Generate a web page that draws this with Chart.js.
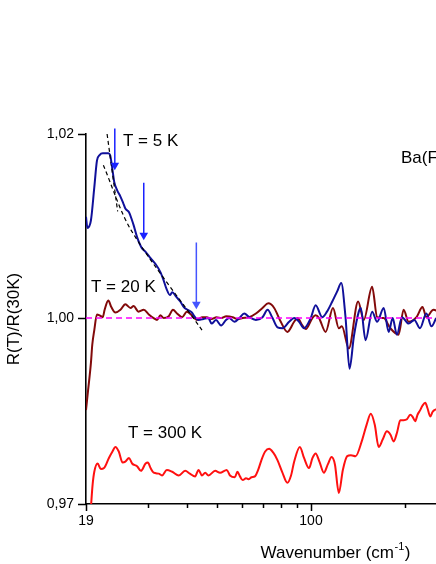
<!DOCTYPE html>
<html>
<head>
<meta charset="utf-8">
<script src="https://cdn.jsdelivr.net/npm/chart.js@4.4.1/dist/chart.umd.min.js"></script>
<style>
html,body{margin:0;padding:0;background:#fff;overflow:hidden}
#wrap{width:620px;height:564px}
</style>
</head>
<body>
<div id="wrap"><canvas id="chart" width="620" height="564"></canvas></div>
<script>
// wavenumber (cm-1) / R(T)/R(30K)
const wn5=[19.0,19.2,19.7,20.2,20.6,21.0,21.5,22.0,22.4,22.7,23.1,23.4,23.9,24.5,25.0,25.4,26.1,26.7,27.0,27.7,28.7,29.5,30.6,31.7,32.9,33.7,34.4,35.3,35.9,37.0,38.1,39.1,40.2,41.5,42.5,43.6,45.2,46.9,48.0,49.6,51.5,53.4,54.7,56.8,58.9,61.1,63.4,66.6,69.9,72.6,75.3,78.1,81.0,85.1,88.3,91.6,95.0,99.8,103.5,108.6,112.5,117.0,121.3,125.0,129.0,132.9,137.2,142.3,144.4,149.6,157.0,162.9,171.0,177.4,182.7,188.5,195.7,205.5,214.4,223.6,234.3,243.3,252.0];
const r5=[1.0110,1.0098,1.0106,1.0142,1.0171,1.0177,1.0179,1.0179,1.0179,1.0177,1.0161,1.0148,1.0139,1.0132,1.0125,1.0119,1.0115,1.0106,1.0101,1.0088,1.0076,1.0072,1.0065,1.0059,1.0050,1.0041,1.0032,1.0025,1.0028,1.0023,1.0018,1.0012,1.0009,1.0006,1.0001,0.9998,0.9999,1.0000,0.9994,0.9998,0.9992,0.9998,1.0000,0.9996,1.0000,1.0005,1.0001,0.9998,1.0001,1.0009,1.0000,0.9990,0.9989,0.9996,1.0000,0.9996,0.9989,1.0000,1.0014,1.0001,1.0007,1.0018,1.0029,1.0038,1.0001,0.9945,0.9980,1.0007,1.0011,0.9976,1.0007,0.9996,1.0011,0.9985,1.0000,0.9982,1.0001,0.9994,0.9998,0.9989,1.0005,0.9991,1.0000];

const wn20=[19.0,19.3,19.7,19.9,20.2,20.6,21.0,21.5,21.8,22.4,22.9,23.6,24.5,25.4,26.4,27.0,28.0,29.1,30.2,31.3,32.1,32.9,33.7,35.0,36.1,37.2,38.6,40.0,41.5,43.1,44.7,46.3,48.0,49.8,51.6,53.5,56.1,58.1,60.4,63.4,66.6,69.9,73.0,76.2,80.0,84.0,88.3,90.5,93.8,96.2,101.0,103.4,106.1,111.4,117.6,122.8,125.6,132.2,141.6,147.6,157.0,162.9,171.0,179.6,190.9,198.1,205.5,217.9,227.7,234.3,246.9,256.0];
const r20=[0.9900,0.9922,0.9951,0.9971,0.9987,1.0004,1.0003,1.0001,1.0009,1.0019,1.0012,1.0006,1.0009,1.0015,1.0011,1.0013,1.0007,1.0009,1.0004,1.0000,0.9998,1.0003,1.0000,1.0002,1.0009,1.0005,1.0001,1.0007,1.0003,0.9998,1.0001,1.0001,0.9999,1.0001,1.0000,1.0002,1.0001,0.9999,1.0000,1.0001,1.0005,1.0011,1.0016,1.0011,0.9996,0.9985,0.9996,1.0000,0.9992,0.9988,1.0000,1.0003,1.0000,0.9985,1.0011,0.9989,0.9991,0.9967,1.0018,0.9998,1.0034,1.0001,1.0000,0.9989,0.9982,1.0009,0.9996,1.0001,1.0012,1.0001,1.0009,1.0007];

const wn300=[19.7,19.95,20.2,20.7,21.2,21.7,22.5,23.1,23.6,24.2,24.9,25.4,26.1,26.7,27.7,28.5,29.5,30.0,30.6,31.3,32.5,33.3,34.5,35.9,37.7,39.5,40.9,42.5,43.6,44.7,45.8,46.9,49.3,51.1,53.7,55.0,57.0,58.1,59.2,60.4,61.9,63.0,64.5,66.1,67.7,69.4,71.3,73.4,75.6,78.0,80.8,84.0,86.3,88.3,92.1,95.0,98.5,101.1,103.5,106.4,110.0,113.2,116.4,119.3,122.8,126.5,130.6,134.3,139.0,146.0,150.7,155.5,160.1,164.8,169.7,175.1,180.0,184.0,188.8,193.3,198.1,203.0,208.0,211.5,215.8,219.5,223.9,227.8,232.4,236.3,241.1,245.2,248.7,256.0];
const r300=[0.9794,0.9819,0.9833,0.9842,0.9836,0.9837,0.9848,0.9855,0.9860,0.9855,0.9843,0.9844,0.9848,0.9842,0.9839,0.9834,0.9842,0.9843,0.9837,0.9832,0.9831,0.9829,0.9835,0.9833,0.9829,0.9834,0.9831,0.9828,0.9835,0.9829,0.9832,0.9829,0.9834,0.9832,0.9835,0.9829,0.9827,0.9833,0.9828,0.9824,0.9826,0.9825,0.9827,0.9828,0.9835,0.9846,0.9855,0.9858,0.9854,0.9846,0.9833,0.9821,0.9829,0.9844,0.9860,0.9848,0.9837,0.9848,0.9853,0.9844,0.9832,0.9841,0.9849,0.9841,0.9810,0.9835,0.9850,0.9851,0.9850,0.9868,0.9884,0.9896,0.9884,0.9860,0.9868,0.9877,0.9873,0.9866,0.9876,0.9889,0.9889,0.9890,0.9895,0.9893,0.9888,0.9895,0.9900,0.9905,0.9908,0.9902,0.9893,0.9898,0.9900,0.9902];

// dashed fit lines at low frequency (5 K)
const fitAWn=[22.2,24.0], fitAR=[1.0200,1.0116];
const fitBWn=[21.6,26.5,45.2], fitBR=[1.0166,1.00955,0.99848];

// arrows: position, start and head
const arrowWn=[23.5,29.1,42.9];
const arrowTop=[1.0206,1.0147,1.0082];
const arrowHead=[1.0166,1.0090,1.0015];

const refWn=[19,784], refR=[1.0,1.0];

const xTickValues=[19,30,40,50,60,70,80,90,100,200,300,400,500,600,700];
const xTickLabels=["19","","","","","","","","100","","","","","",""];
const xMajor=[19,100];
const yTickValues=[0.9798,1.00,1.02];
const yTickLabels=["0,97","1,00","1,02"];

const FONT='"Liberation Sans", Arial, sans-serif';

function pts(xs,ys){
  const n=Math.min(xs.length,ys.length), out=[];
  for(let i=0;i<n;i++) out.push({x:xs[i],y:ys[i]});
  return out;
}

const arrowSets=arrowWn.map((w,i)=>({
  data:[{x:w,y:arrowTop[i]},{x:w,y:arrowHead[i]}],
  borderColor:i===2?"#4455ff":"#1a22ff",
  backgroundColor:i===2?"#4455ff":"#1a22ff",
  borderWidth:1.5,
  pointRadius:[0,5],
  pointStyle:"triangle",
  rotation:180,
  pointBorderWidth:0,
  clip:false
}));

const notes=[
  {t:"T = 5 K",x:123,y:146},
  {t:"T = 20 K",x:91,y:292},
  {t:"T = 300 K",x:128,y:438},
  {t:"Ba(F",x:401,y:163}
];

const extras={
  id:"extras",
  afterDraw(chart){
    const ctx=chart.ctx, xs=chart.scales.x, ys=chart.scales.y, a=chart.chartArea;
    ctx.save();
    ctx.strokeStyle="#000"; ctx.lineWidth=1.5;
    ctx.beginPath();
    xs.ticks.forEach(t=>{
      const px=Math.round(xs.getPixelForValue(t.value))+0.5;
      const len=xMajor.includes(t.value)?7:4;
      ctx.moveTo(px,a.bottom); ctx.lineTo(px,a.bottom+len);
    });
    ys.ticks.forEach(t=>{
      const py=Math.round(ys.getPixelForValue(t.value))+0.5;
      ctx.moveTo(a.left-8,py); ctx.lineTo(a.left,py);
    });
    ctx.stroke();

    ctx.fillStyle="#000";
    ctx.font="17px "+FONT;
    ctx.textBaseline="alphabetic";
    ctx.textAlign="left";
    notes.forEach(n=>ctx.fillText(n.t,n.x,n.y));

    // x title with superscript
    const s1="Wavenumber (cm", s2="-1", s3=")";
    ctx.font="17px "+FONT; const w1=ctx.measureText(s1).width, w3=ctx.measureText(s3).width;
    ctx.font="11px "+FONT; const w2=ctx.measureText(s2).width;
    let x0=(a.left+a.right)/2-(w1+w2+w3)/2-3;
    const base=558;
    ctx.font="17px "+FONT; ctx.fillText(s1,x0,base);
    ctx.font="11px "+FONT; ctx.fillText(s2,x0+w1+0.5,base-8);
    ctx.font="17px "+FONT; ctx.fillText(s3,x0+w1+w2+1,base);
    ctx.restore();
  }
};

new Chart(document.getElementById("chart"),{
  type:"line",
  data:{datasets:[
    ...arrowSets,
    {data:pts(refWn,refR),borderColor:"#ff00ff",borderWidth:1.5,borderDash:[6,4],pointRadius:0},
    {data:pts(fitAWn,fitAR),borderColor:"#000",borderWidth:1.2,borderDash:[4,3],pointRadius:0},
    {data:pts(fitBWn,fitBR),borderColor:"#000",borderWidth:1.2,borderDash:[4,3],pointRadius:0,tension:0.3},
    {data:pts(wn5,r5),borderColor:"#10109a",borderWidth:2,pointRadius:0,cubicInterpolationMode:"monotone"},
    {data:pts(wn20,r20),borderColor:"#820a0a",borderWidth:2,pointRadius:0,cubicInterpolationMode:"monotone"},
    {data:pts(wn300,r300),borderColor:"#ff1010",borderWidth:2,pointRadius:0,cubicInterpolationMode:"monotone"}
  ]},
  options:{
    responsive:false,
    animation:false,
    layout:{padding:{left:0,top:134,right:30,bottom:0}},
    plugins:{legend:{display:false},tooltip:{enabled:false}},
    scales:{
      x:{
        type:"logarithmic",min:19,max:784,
        grid:{display:false,drawTicks:false},
        border:{display:true,color:"#000",width:1.6},
        afterBuildTicks:s=>{s.ticks=xTickValues.map(v=>({value:v}));},
        afterFit:s=>{s.height=60;},
        ticks:{autoSkip:false,maxRotation:0,padding:9,color:"#000",font:{family:FONT,size:14},
          callback:v=>{const i=xTickValues.indexOf(v);return i<0?"":xTickLabels[i];}}
      },
      y:{
        type:"linear",min:0.9798,max:1.02,
        grid:{display:false,drawTicks:false},
        border:{display:true,color:"#000",width:1.6},
        afterBuildTicks:s=>{s.ticks=yTickValues.map(v=>({value:v}));},
        afterFit:s=>{s.width=86;},
        ticks:{padding:12,color:"#000",font:{family:FONT,size:14},
          callback:(v,i)=>yTickLabels[i]},
        title:{display:true,text:"R(T)/R(30K)",color:"#000",font:{family:FONT,size:17},padding:{top:4,bottom:0}}
      }
    }
  },
  plugins:[extras]
});
</script>
</body>
</html>
